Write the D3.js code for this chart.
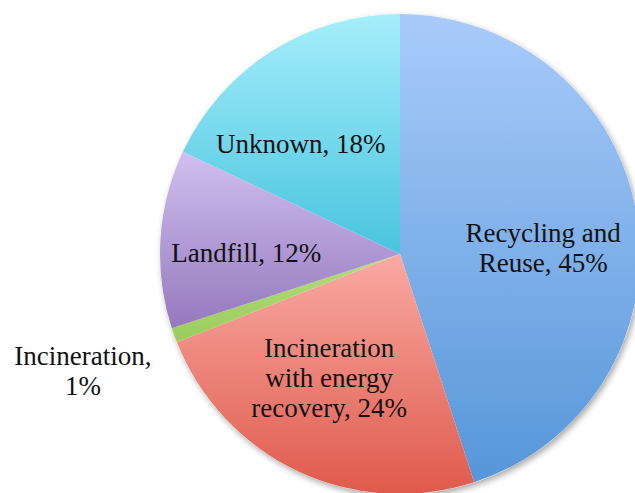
<!DOCTYPE html>
<html>
<head>
<meta charset="utf-8">
<script src="https://cdn.jsdelivr.net/npm/d3@7"></script>
<style>
  html, body { margin: 0; padding: 0; background: #fff; }
  svg { display: block; }
</style>
</head>
<body>
<svg id="chart" width="635" height="493"></svg>
<script>
// ---- data ----
const categories = ["Recycling and Reuse", "Incineration with energy recovery", "Incineration", "Landfill", "Unknown"];
const values = [45, 24, 1, 12, 18];
const labelLines = [
  ["Recycling and", "Reuse, 45%"],
  ["Incineration", "with energy", "recovery, 24%"],
  ["Incineration,", "1%"],
  ["Landfill, 12%"],
  ["Unknown, 18%"]
];

// ---- styling / layout config ----
const gradTop    = ["#a9cbfa", "#f9aaa3", "#b4dc7c", "#d2bff0", "#a6eefb"];
const gradBottom = ["#5696d9", "#df5a4c", "#9ccc5c", "#9479bd", "#48c4de"];
const labelNudge = [[-5, 17], [-7, -12], [-176, 66], [-4, 8], [-19, 17]];

const W = 635, H = 493;
const cx = 400, cy = 254, R = 240;
const lineH = 30;

const svg = d3.select("#chart");
const defs = svg.append("defs");

const filt = defs.append("filter").attr("id", "shadow")
  .attr("x", "-10%").attr("y", "-10%").attr("width", "120%").attr("height", "120%");
filt.append("feDropShadow").attr("dx", 2).attr("dy", 3).attr("stdDeviation", 3)
  .attr("flood-color", "#000").attr("flood-opacity", 0.35);

categories.forEach((c, i) => {
  const g = defs.append("linearGradient").attr("id", "grad" + i)
    .attr("x1", 0).attr("y1", 0).attr("x2", 0).attr("y2", 1);
  g.append("stop").attr("offset", "0%").attr("stop-color", gradTop[i]);
  g.append("stop").attr("offset", "100%").attr("stop-color", gradBottom[i]);
});

const pie = d3.pie().sort(null).value(d => d)(values);
const arc = d3.arc().innerRadius(0).outerRadius(R);
const labelArc = d3.arc().innerRadius(150).outerRadius(150);

const g = svg.append("g").attr("transform", `translate(${cx},${cy})`);

// shadow base
g.append("circle").attr("r", R).attr("fill", "#fff").attr("filter", "url(#shadow)");

g.selectAll("path.slice").data(pie).enter().append("path")
  .attr("class", "slice")
  .attr("d", arc)
  .attr("fill", (d, i) => `url(#grad${i})`);

g.selectAll("text.lbl").data(pie).enter().append("text")
  .attr("class", "lbl")
  .attr("text-anchor", "middle")
  .attr("font-family", "'Liberation Serif', 'Times New Roman', serif")
  .attr("font-size", 27)
  .attr("fill", "#111")
  .each(function(d, i) {
    const [x, y] = labelArc.centroid(d);
    const px = x + labelNudge[i][0];
    const py = y + labelNudge[i][1];
    const lines = labelLines[i];
    const first = py - (lines.length - 1) * lineH / 2 + 9;
    const t = d3.select(this);
    lines.forEach((ln, k) => {
      t.append("tspan").attr("x", px).attr("y", first + k * lineH).text(ln);
    });
  });
</script>
</body>
</html>
